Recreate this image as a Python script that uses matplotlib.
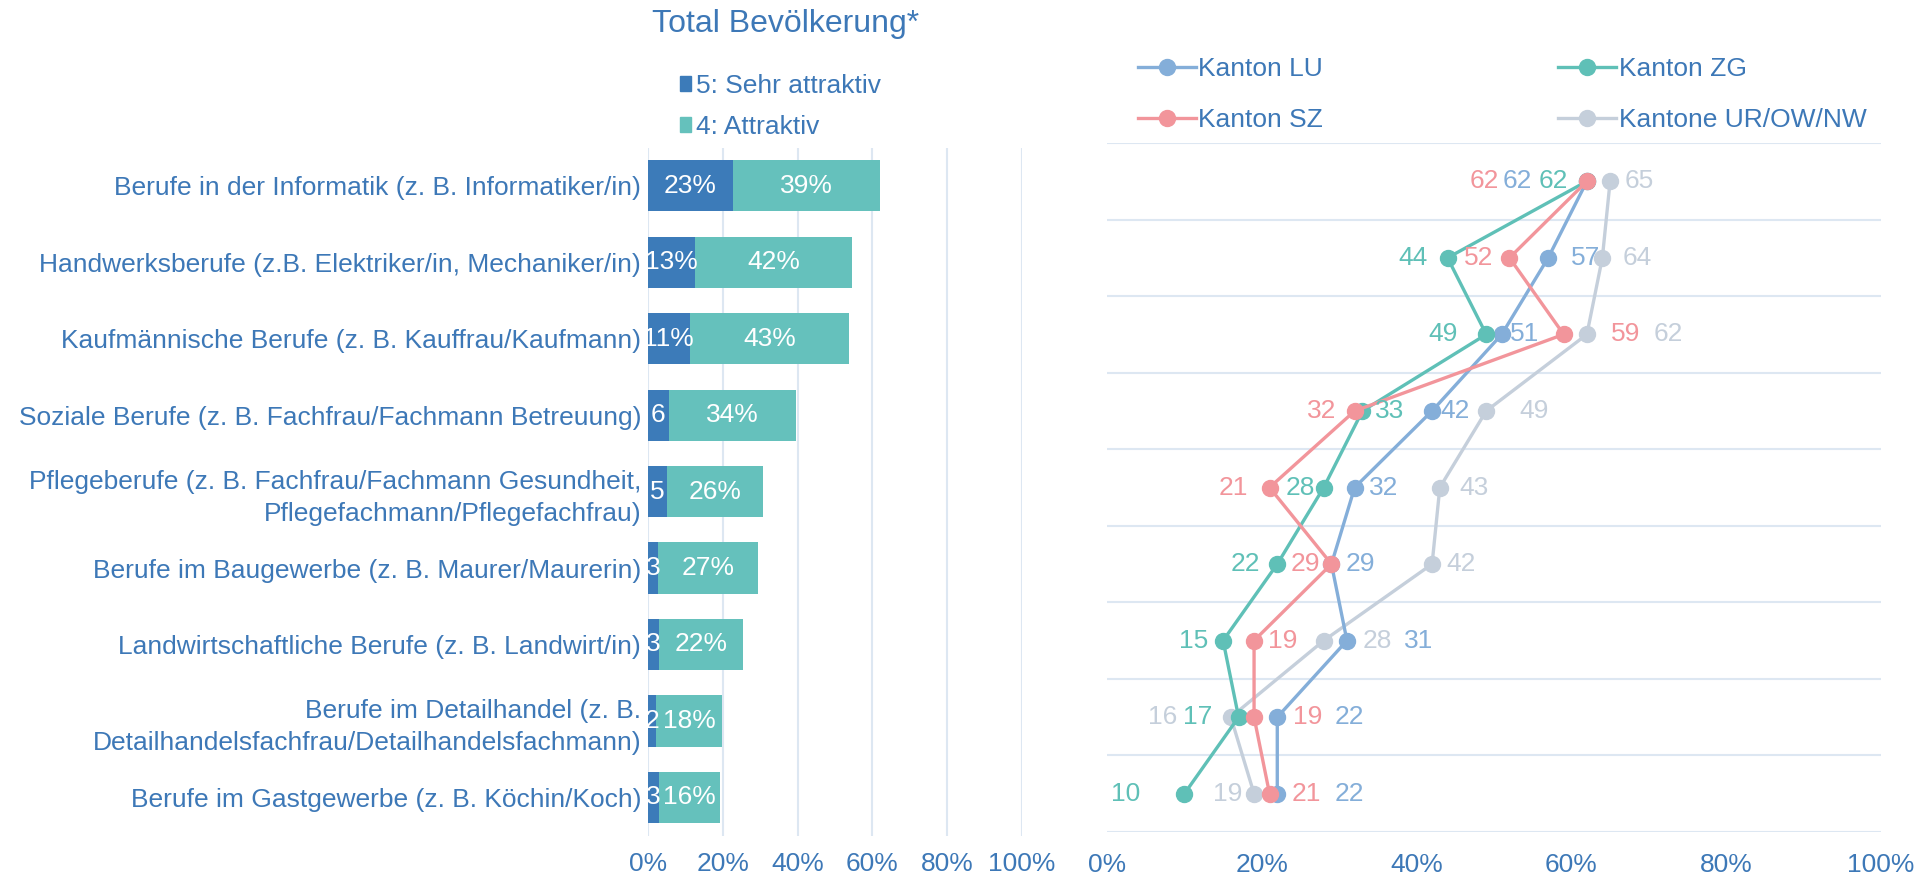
import matplotlib
matplotlib.use("Agg")
import matplotlib.pyplot as plt
from matplotlib.patches import Patch

plt.rcParams["font.family"] = ["Liberation Sans", "DejaVu Sans"]

# Kategorien (oben nach unten)
berufe = [
    "Berufe in der Informatik (z. B. Informatiker/in)",
    "Handwerksberufe (z.B. Elektriker/in, Mechaniker/in)",
    "Kaufmännische Berufe (z. B. Kauffrau/Kaufmann)",
    "Soziale Berufe (z. B. Fachfrau/Fachmann Betreuung)",
    "Pflegeberufe (z. B. Fachfrau/Fachmann Gesundheit,\nPflegefachmann/Pflegefachfrau)",
    "Berufe im Baugewerbe (z. B. Maurer/Maurerin)",
    "Landwirtschaftliche Berufe (z. B. Landwirt/in)",
    "Berufe im Detailhandel (z. B.\nDetailhandelsfachfrau/Detailhandelsfachmann)",
    "Berufe im Gastgewerbe (z. B. Köchin/Koch)",
]

# Total Bevölkerung, Anteile in %
sehr_attraktiv = [22.7, 12.6, 11.1, 5.5, 5.0, 2.7, 3.0, 2.1, 2.9]
attraktiv = [39.3, 42.0, 42.7, 34.0, 25.8, 26.6, 22.3, 17.7, 16.4]

# Kantone: Summe sehr attraktiv + attraktiv in %
kanton_lu = [62, 57, 51, 42, 32, 29, 31, 22, 22]
kanton_zg = [62, 44, 49, 33, 28, 22, 15, 17, 10]
kanton_sz = [62, 52, 59, 32, 21, 29, 19, 19, 21]
kanton_ur = [65, 64, 62, 49, 43, 42, 28, 16, 19]

# Verschiebung der Datenbeschriftungen in Pixel (x)
off_lu = [-70, 37, 23, 23, 29, 29, 72, 72, 72]
off_zg = [-34, -35, -43, 27, -23, -32, -29, -41, -59]
off_sz = [-103, -31, 62, -33, -36, -26, 29, 54, 37]
off_ur = [29, 35, 81, 48, 34, 29, 54, -68, -26]

TXT = "#3D78B7"
DUNKEL = "#3C7BB9"
TUERKIS = "#65C1BC"
GRID = "#DDE7F2"
C_LU = "#84AED9"
C_ZG = "#5FC0B7"
C_SZ = "#F2959B"
C_UR = "#C5CFDB"
FS = 19

fig = plt.figure(figsize=(19.18, 8.75), dpi=100)

# ---------------- linkes Diagramm ----------------
ax1 = fig.add_axes([648 / 1918, 1 - 835.6 / 875, 374 / 1918, 688 / 875])
y = list(range(len(berufe)))
ax1.barh(y, sehr_attraktiv, height=0.67, color=DUNKEL, zorder=3)
ax1.barh(y, attraktiv, left=sehr_attraktiv, height=0.67, color=TUERKIS, zorder=3)

for i in y:
    v = round(sehr_attraktiv[i])
    lab = f"{v}%" if v >= 10 else f"{v}"
    ax1.text(sehr_attraktiv[i] / 2, i, lab, color="white", fontsize=FS,
             ha="center", va="center", zorder=4)
    ax1.text(sehr_attraktiv[i] + attraktiv[i] / 2, i, f"{round(attraktiv[i])}%",
             color="white", fontsize=FS, ha="center", va="center", zorder=4)

ax1.set_xlim(0, 100)
ax1.set_ylim(len(berufe) - 0.5, -0.5)
ax1.set_xticks([0, 20, 40, 60, 80, 100])
ax1.set_xticklabels(["0%", "20%", "40%", "60%", "80%", "100%"])
ax1.set_yticks(y)
ax1.set_yticklabels(berufe, linespacing=1.4)
ax1.tick_params(axis="both", length=0, labelsize=FS, labelcolor=TXT)
ax1.tick_params(axis="y", pad=5)
ax1.tick_params(axis="x", pad=12)
for lab in ax1.get_yticklabels():
    lab.set_ha("right")
ax1.grid(axis="x", color=GRID, lw=1.5, zorder=0)
for s in ax1.spines.values():
    s.set_visible(False)

fig.text(786 / 1918, 1 - 24 / 875, "Total Bevölkerung*", color=TXT, fontsize=23,
         ha="center", va="center")
leg1 = fig.legend(handles=[Patch(color=DUNKEL, label="5: Sehr attraktiv"),
                           Patch(color=TUERKIS, label="4: Attraktiv")],
                  loc="upper left", bbox_to_anchor=(656 / 1918, 1 - 50 / 875),
                  frameon=False, fontsize=FS, handlelength=0.43, handleheight=0.5,
                  handletextpad=0.2, labelspacing=0.64)
for t in leg1.get_texts():
    t.set_color(TXT)

# ---------------- rechtes Diagramm ----------------
ax2 = fig.add_axes([1107 / 1918, 1 - 832 / 875, 774 / 1918, 689 / 875])
serien = [
    ("Kanton LU", kanton_lu, C_LU, off_lu),
    ("Kanton SZ", kanton_sz, C_SZ, off_sz),
    ("Kanton ZG", kanton_zg, C_ZG, off_zg),
    ("Kantone UR/OW/NW", kanton_ur, C_UR, off_ur),
]
zord = {"Kantone UR/OW/NW": 3, "Kanton LU": 4, "Kanton ZG": 5, "Kanton SZ": 6}
handles = []
for name, werte, farbe, off in serien:
    h, = ax2.plot(werte, y, color=farbe, lw=2.4, marker="o", ms=11.5,
                  label=name, zorder=zord[name])
    handles.append(h)
    for i, v in enumerate(werte):
        ax2.annotate(f"{v}", (v, i), xytext=(off[i] * 0.72, 0),
                     textcoords="offset points", color=farbe, fontsize=FS,
                     ha="center", va="center", zorder=7)

ax2.set_xlim(0, 100)
ax2.set_ylim(len(berufe) - 0.5, -0.5)
ax2.set_xticks([0, 20, 40, 60, 80, 100])
ax2.set_xticklabels(["0%", "20%", "40%", "60%", "80%", "100%"])
ax2.set_yticks([i - 0.5 for i in range(len(berufe) + 1)])
ax2.set_yticklabels([])
ax2.tick_params(axis="both", length=0, labelsize=FS, labelcolor=TXT)
ax2.tick_params(axis="x", pad=15)
ax2.grid(axis="y", color=GRID, lw=1.5, zorder=0)
for s in ax2.spines.values():
    s.set_visible(False)

leg2 = fig.legend(handles=handles, loc="upper left", ncol=2,
                  bbox_to_anchor=(1114 / 1918, 1 - 33 / 875), frameon=False,
                  fontsize=FS, handlelength=2.2, handletextpad=0.1,
                  columnspacing=8.9, labelspacing=1.04)
for t in leg2.get_texts():
    t.set_color(TXT)

fig.savefig("out.png", dpi=100)
